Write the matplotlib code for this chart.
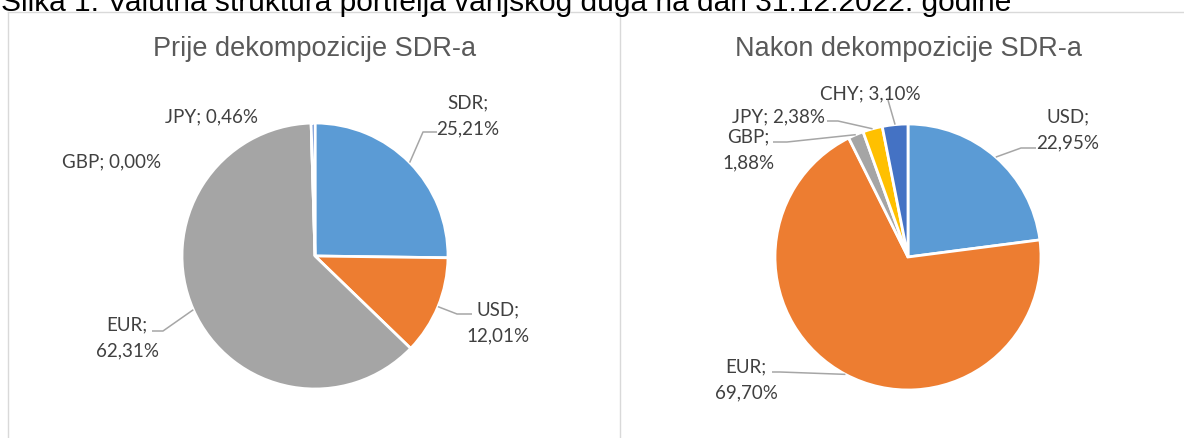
import matplotlib.pyplot as plt
import numpy as np

# data
left_names = ['SDR', 'USD', 'EUR', 'GBP', 'JPY']
left_values = [25.21, 12.01, 62.31, 0.00, 0.46]
right_names = ['USD', 'EUR', 'GBP', 'JPY', 'CHY']
right_values = [22.95, 69.70, 1.88, 2.38, 3.10]

colors = ['#5B9BD5', '#ED7D31', '#A5A5A5', '#FFC000', '#4472C4']

caption = 'Slika 1: Valutna struktura portfelja vanjskog duga na dan 31.12.2022. godine'
left_title = 'Prije dekompozicije SDR-a'
right_title = 'Nakon dekompozicije SDR-a'

W, H = 1184, 439

# label layout in pixels from top-left: text centre, two lines?, leader (elbow, end)
left_layout = [
    ((468, 116), True, ((423, 133), (437, 133))),
    ((498, 323), True, ((457, 315), (472, 315))),
    ((127, 338), True, ((163, 332), (152, 332))),
    ((112, 162), False, None),
    ((211, 117), False, None),
]
right_layout = [
    ((1068, 130), True, ((1021, 149), (1036, 149))),
    ((746, 380), True, ((780, 373), (772, 373))),
    ((748, 150), True, ((787, 143), (773, 143))),
    ((778, 117), False, ((838, 122), (827, 122))),
    ((870, 94), False, ((888, 101), (888, 101))),
]


def py(y):
    return H - y


def fmt(name, v, two_lines):
    s = f'{v:.2f}'.replace('.', ',') + '%'
    return f'{name};\n{s}' if two_lines else f'{name}; {s}'


fig = plt.figure(figsize=(W / 100, H / 100), dpi=100)
ax = fig.add_axes([0, 0, 1, 1])

label_font = dict(family=['Lato', 'DejaVu Sans'], fontsize=13.5, color='#404040')
title_font = dict(family=['Liberation Sans', 'DejaVu Sans'], fontsize=19.5, color='#595959')


def draw_pie(names, values, cx, cy, r, layout, title):
    wedges, _ = ax.pie(values, colors=colors, center=(cx, py(cy)), radius=r,
                       startangle=90, counterclock=False,
                       wedgeprops=dict(edgecolor='white', linewidth=2))
    for w, name, v, (tpos, two, lead) in zip(wedges, names, values, layout):
        ax.text(tpos[0], py(tpos[1]), fmt(name, v, two), ha='center', va='center',
                multialignment='center', linespacing=1.6, **label_font)
        if lead is not None:
            mid = np.deg2rad((w.theta1 + w.theta2) / 2)
            x0 = cx + r * np.cos(mid)
            y0 = py(cy) + r * np.sin(mid)
            (ex, ey), (sx, sy) = lead
            ax.plot([x0, ex, sx], [y0, py(ey), py(sy)], color='#A6A6A6', lw=1.1,
                    solid_capstyle='butt')
    ax.text(cx, py(49), title, ha='center', va='center', **title_font)


draw_pie(left_names, left_values, 315, 257, 133, left_layout, left_title)
draw_pie(right_names, right_values, 908, 258, 133, right_layout, right_title)

# chart frames
frame = dict(color='#D9D9D9', lw=1.0)
ax.plot([8, W], [py(13), py(13)], **frame)
ax.plot([8, 8], [py(13), 0], **frame)
ax.plot([620, 620], [py(13), 0], **frame)

ax.set_xlim(0, W)
ax.set_ylim(0, H)
ax.set_aspect('equal')
ax.axis('off')

fig.text(1 / W, 1 - 11 / H, caption, ha='left', va='baseline',
         family=['Liberation Sans', 'DejaVu Sans'], fontsize=21.5, color='black')

fig.savefig('out.png', dpi=100)
